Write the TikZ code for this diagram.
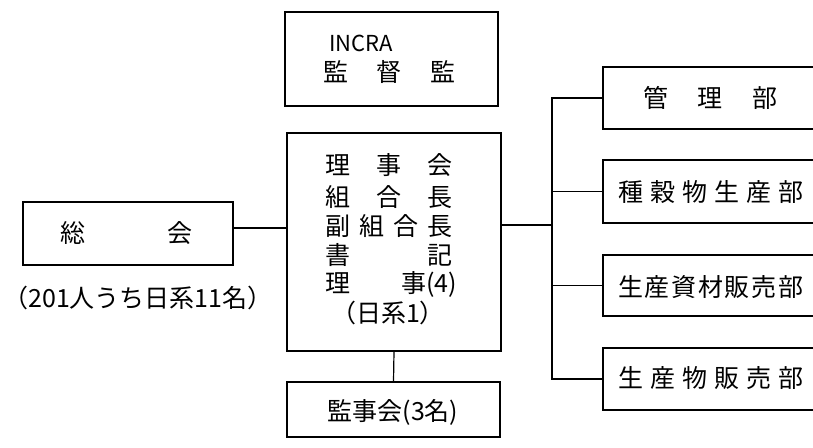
\documentclass[tikz,border=0pt]{standalone}
\usepackage{fontspec}
\setmainfont{Noto Sans CJK JP}
\newcommand\cjkbig{\fontsize{25}{30}\selectfont}
\begin{document}
\begin{tikzpicture}[x=1pt,y=-1pt,
  box/.style={draw, line width=1.2pt, rectangle, inner sep=0pt},
  txt/.style={inner sep=0pt, font=\cjkbig},
  conn/.style={line width=1.2pt}]
\useasboundingbox (0,0) rectangle (813,447);
% boxes
\node[box, minimum width=213pt, minimum height=94pt] (incra) at (391.5,59) {};
\node[box, minimum width=214pt, minimum height=218pt] (main) at (394,242) {};
\node[box, minimum width=213pt, minimum height=55pt] (kansa) at (393.5,409.5) {};
\node[box, minimum width=210pt, minimum height=63pt] (sokai) at (128,233.5) {};
\node[box, minimum width=227pt, minimum height=62pt] (b1) at (716.5,98) {};
\node[box, minimum width=227pt, minimum height=63pt] (b2) at (716.5,191.5) {};
\node[box, minimum width=227pt, minimum height=61pt] (b3) at (716.5,285.5) {};
\node[box, minimum width=227pt, minimum height=62pt] (b4) at (716.5,379) {};
% texts
\node[txt, anchor=west, font=\fontsize{22}{26}\selectfont] (incrat) at (329,43) {INCRA};
\node[txt] (kantoku) at (389,72) {\makebox[132pt]{監\hfill 督\hfill 監}};
\node[txt] (r1) at (388.5,165) {\makebox[127pt]{理\hfill 事\hfill 会}};
\node[txt] (r2) at (388.5,197) {\makebox[127pt]{組\hfill 合\hfill 長}};
\node[txt] (r3) at (388.5,226) {\makebox[127pt]{副\hfill 組\hfill 合\hfill 長}};
\node[txt] (r4) at (388.5,255) {\makebox[127pt]{書\hfill 記}};
\node[txt] (r5) at (391,284) {\makebox[132pt]{理\hfill 事(4)}};
\node[txt] (r6) at (388,313) {（日系1）};
\node[txt] (kansat) at (393,412) {監事会(3名)};
\node[txt] (sokait) at (126,233) {\makebox[132pt]{総\hfill 会}};
\node[txt] (caption) at (138,298) {（201人うち日系11名）};
\node[txt] (b1t) at (710,98) {\makebox[134pt]{管\hfill 理\hfill 部}};
\node[txt] (b2t) at (710.5,192) {\makebox[185pt]{種\hfill 穀\hfill 物\hfill 生\hfill 産\hfill 部}};
\node[txt] (b3t) at (710.5,287) {\makebox[185pt]{生\hfill 産\hfill 資\hfill 材\hfill 販\hfill 売\hfill 部}};
\node[txt] (b4t) at (710.5,378) {\makebox[185pt]{生\hfill 産\hfill 物\hfill 販\hfill 売\hfill 部}};
% connectors
\coordinate (ya) at (0,228);
\coordinate (busm) at (552,225);
\draw[conn] (sokai.east |- ya) -- (main.west |- ya);
\draw[conn] (main.east |- busm) -- (busm);
\draw[conn] (b1.west) -- (b1.west -| busm) -- (b4.west -| busm) -- (b4.west);
\draw[conn] (b2.west) -- (b2.west -| busm);
\draw[conn] (b3.west) -- (b3.west -| busm);
\draw[conn] (main.south) -- (kansa.north);
\end{tikzpicture}
\end{document}
